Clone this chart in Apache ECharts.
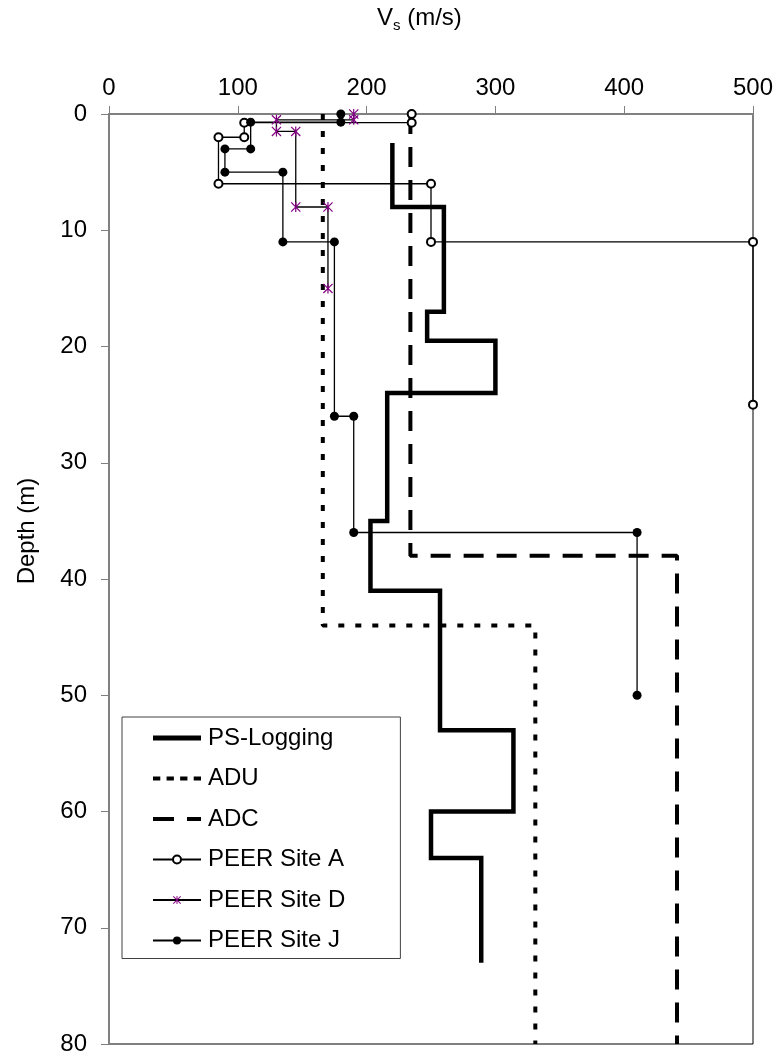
<!DOCTYPE html>
<html>
<head>
<meta charset="utf-8">
<script src="https://cdn.jsdelivr.net/npm/echarts@6/dist/echarts.min.js"></script>
<style>
  html, body { margin: 0; padding: 0; background: #fff; }
  #chart { width: 782px; height: 1061px; }
</style>
</head>
<body>
<div id="chart"></div>
<script>
// Shear-wave velocity profiles (Vs in m/s) against depth (m)
const vsTicks = [0, 100, 200, 300, 400, 500];
const depthTicks = [0, 10, 20, 30, 40, 50, 60, 70, 80];

const seriesNames = ['PS-Logging', 'ADU', 'ADC', 'PEER Site A', 'PEER Site D', 'PEER Site J'];

const psVs    = [220, 220, 260, 260, 247, 247, 300, 300, 216, 216, 203, 203, 257, 257, 314, 314, 250, 250, 289, 289];
const psDepth = [2.5, 8, 8, 17, 17, 19.5, 19.5, 24, 24, 35, 35, 41, 41, 53, 53, 60, 60, 64, 64, 73];

const aduVs    = [166, 166, 331, 331];
const aduDepth = [0, 44, 44, 80];

const adcVs    = [234, 234, 441, 441];
const adcDepth = [0, 38, 38, 80];

const siteAVs    = [235, 235, 105, 105, 85, 85, 250, 250, 500, 500];
const siteADepth = [0, 0.75, 0.75, 2, 2, 6, 6, 11, 11, 25];

const siteDVs    = [190, 190, 130, 130, 145, 145, 170, 170];
const siteDDepth = [0, 0.5, 0.5, 1.5, 1.5, 8, 8, 15];

const siteJVs    = [180, 180, 110, 110, 90, 90, 135, 135, 175, 175, 190, 190, 410, 410];
const siteJDepth = [0, 0.7, 0.7, 3, 3, 5, 5, 11, 11, 26, 26, 36, 36, 50];

function pairs(vs, depth) {
  return vs.map((v, i) => [v, depth[i]]);
}

const FONT = '"Liberation Sans", Arial, sans-serif';
const AXIS_GRAY = '#808080';

// star marker: an X crossed by a vertical bar
const STAR = 'path://M4.4,0 H5.6 V10 H4.4 Z M0,0.85 L0.85,0 L10,9.15 L9.15,10 Z M9.15,0 L10,0.85 L0.85,10 L0,9.15 Z';

// legend keys for the unmarked profiles: solid, dotted and dashed strokes
const KEY_SOLID  = 'path://M0,0 H48 V5 H0 Z';
const KEY_DOTTED = 'path://M0,0 H7 V4 H0 Z M13,0 H20 V4 H13 Z M26,0 H33 V4 H26 Z M39,0 H46 V4 H39 Z';
const KEY_DASHED = 'path://M0,0 H21 V4 H0 Z M34,0 H48 V4 H34 Z';

const chart = echarts.init(document.getElementById('chart'), null, { renderer: 'canvas' });

chart.setOption({
  animation: false,
  backgroundColor: '#fff',
  textStyle: { fontFamily: FONT },
  grid: {
    left: 109, right: 29, top: 114, bottom: 17,
    show: true, borderColor: '#000', borderWidth: 1, backgroundColor: '#fff'
  },
  xAxis: {
    type: 'value',
    position: 'top',
    min: vsTicks[0],
    max: vsTicks[vsTicks.length - 1],
    interval: vsTicks[1] - vsTicks[0],
    axisLine: { show: true, lineStyle: { color: AXIS_GRAY, width: 2 } },
    axisTick: { show: true, length: 8, lineStyle: { color: AXIS_GRAY, width: 1 } },
    axisLabel: { fontSize: 24, color: '#000', fontFamily: FONT, margin: 14 },
    splitLine: { show: false }
  },
  yAxis: {
    type: 'value',
    inverse: true,
    min: depthTicks[0],
    max: depthTicks[depthTicks.length - 1],
    interval: depthTicks[1] - depthTicks[0],
    axisLine: { show: true, lineStyle: { color: AXIS_GRAY, width: 2 } },
    axisTick: { show: true, length: 8, lineStyle: { color: AXIS_GRAY, width: 1 } },
    axisLabel: { fontSize: 24, color: '#000', fontFamily: FONT, margin: 22 },
    splitLine: { show: false }
  },
  legend: {
    orient: 'vertical',
    left: 122,
    top: 717,
    data: [
      { name: seriesNames[0], icon: KEY_SOLID },
      { name: seriesNames[1], icon: KEY_DOTTED },
      { name: seriesNames[2], icon: KEY_DASHED },
      { name: seriesNames[3] },
      { name: seriesNames[4] },
      { name: seriesNames[5] }
    ],
    backgroundColor: '#fff',
    borderColor: '#404040',
    borderWidth: 1,
    borderRadius: 0,
    padding: [9, 55, 6, 30],
    itemWidth: 48,
    itemHeight: 10,
    itemGap: 16.5,
    textStyle: { fontSize: 24, color: '#000', fontFamily: FONT, lineHeight: 24, padding: [0, 0, 0, 2] }
  },
  graphic: [
    {
      type: 'text',
      left: 377,
      top: 6,
      style: {
        text: '{a|V}{b|s}{a| (m/s)}',
        rich: {
          a: { fontSize: 24, fontFamily: FONT, fill: '#000', lineHeight: 30 },
          b: { fontSize: 15, fontFamily: FONT, fill: '#000', lineHeight: 18, verticalAlign: 'bottom', padding: [10, 0, 0, 0] }
        }
      }
    },
    {
      type: 'text',
      x: 27,
      y: 531,
      rotation: Math.PI / 2,
      style: {
        text: 'Depth (m)',
        fontSize: 24,
        fontFamily: FONT,
        fill: '#000',
        align: 'center',
        verticalAlign: 'middle'
      }
    }
  ],
  series: [
    {
      name: seriesNames[0], type: 'line', data: pairs(psVs, psDepth),
      showSymbol: false, symbol: 'none',
      lineStyle: { color: '#000', width: 4.5, join: 'miter' },
      itemStyle: { color: '#000' }, z: 2
    },
    {
      name: seriesNames[1], type: 'line', data: pairs(aduVs, aduDepth),
      showSymbol: false, symbol: 'none',
      lineStyle: { color: '#000', width: 4, type: [6, 11] },
      itemStyle: { color: '#000' }, z: 2
    },
    {
      name: seriesNames[2], type: 'line', data: pairs(adcVs, adcDepth),
      showSymbol: false, symbol: 'none',
      lineStyle: { color: '#000', width: 4, type: [20, 13] },
      itemStyle: { color: '#000' }, z: 2
    },
    {
      name: seriesNames[3], type: 'line', data: pairs(siteAVs, siteADepth),
      symbol: 'emptyCircle', symbolSize: 8, showAllSymbol: true,
      lineStyle: { color: '#000', width: 1.3 },
      itemStyle: { color: '#000', borderColor: '#000', borderWidth: 1 }, z: 3
    },
    {
      name: seriesNames[4], type: 'line', data: pairs(siteDVs, siteDDepth),
      symbol: STAR, symbolSize: 10, showAllSymbol: true,
      lineStyle: { color: '#000', width: 1.3 },
      itemStyle: { color: '#800080' }, z: 3
    },
    {
      name: seriesNames[5], type: 'line', data: pairs(siteJVs, siteJDepth),
      symbol: 'circle', symbolSize: 9, showAllSymbol: true,
      lineStyle: { color: '#000', width: 1.3 },
      itemStyle: { color: '#000' }, z: 3
    }
  ]
});
</script>
</body>
</html>
